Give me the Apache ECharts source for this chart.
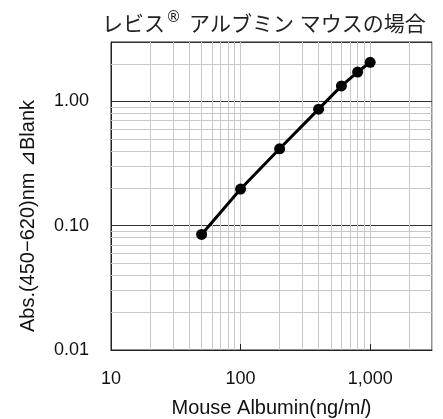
<!DOCTYPE html>
<html>
<head>
<meta charset="utf-8">
<script src="https://cdn.jsdelivr.net/npm/echarts@6/dist/echarts.min.js"></script>
<style>
  html, body { margin: 0; padding: 0; background: #fff; }
  #chart { width: 443px; height: 419px; }
</style>
</head>
<body>
<div id="chart"></div>
<script>
// データ
var concList = [50, 100, 200, 400, 600, 800, 1000];          // ng/ml
var absList = [0.085, 0.197, 0.415, 0.865, 1.33, 1.72, 2.06];  // Abs
var xTickList = [10, 100, 1000];
var yTickList = [0.01, 0.1, 1];
var xMinorList = [20, 30, 40, 50, 60, 70, 80, 90, 200, 300, 400, 500, 600, 700, 800, 900, 2000];
var yMinorList = [0.02, 0.03, 0.04, 0.05, 0.06, 0.07, 0.08, 0.09, 0.2, 0.3, 0.4, 0.5, 0.6, 0.7, 0.8, 0.9, 2];

var myChart = echarts.init(document.getElementById('chart'));

var points = [];
for (var i = 0; i < concList.length; i++) {
    points.push([concList[i], absList[i]]);
}

// 補助目盛線
var minorLines = [];
xMinorList.forEach(function (v) { minorLines.push({ xAxis: v }); });
yMinorList.forEach(function (v) { minorLines.push({ yAxis: v }); });

var labelFont = 'Liberation Sans, Arial, sans-serif';

function isTick(list, v) {
    for (var i = 0; i < list.length; i++) {
        if (Math.abs(Math.log10(v) - Math.log10(list[i])) < 1e-6) return true;
    }
    return false;
}

var option = {
    animation: false,
    title: {
        text: 'レビス{sup|®}アルブミン{gap| }マウスの場合',
        left: 97,
        top: 6,
        textStyle: {
            fontFamily: 'Noto Sans CJK JP',
            fontWeight: 'normal',
            fontSize: 21,
            color: '#222',
            rich: {
                sup: { fontSize: 15, padding: [0, 8, 10, 1], color: '#222', fontFamily: 'DejaVu Sans' },
                gap: { fontSize: 8, padding: [0, 2, 0, 2] }
            }
        }
    },
    grid: {
        left: 111,
        right: 11,
        top: 42,
        bottom: 69,
        outerBoundsMode: 'none',
        show: true,
        borderColor: '#222',
        borderWidth: 1,
        backgroundColor: 'transparent'
    },
    xAxis: {
        type: 'log',
        logBase: 10,
        min: 10,
        max: 3000,
        name: 'Mouse Albumin(ng/m{i|l})',
        nameLocation: 'middle',
        nameGap: 48,
        nameTextStyle: {
            fontFamily: labelFont,
            fontSize: 20,
            color: '#111',
            rich: { i: { fontStyle: 'italic', fontFamily: labelFont, fontSize: 20, color: '#111' } }
        },
        axisLine: { show: true, lineStyle: { color: '#222', width: 1 } },
        axisTick: { show: true, inside: true, length: 6, lineStyle: { color: '#222' } },
        axisLabel: {
            margin: 20,
            showMaxLabel: false,
            fontFamily: labelFont,
            fontSize: 18,
            color: '#111',
            formatter: function (v) {
                return isTick(xTickList, v) ? Math.round(v).toLocaleString('en-US') : '';
            }
        },
        splitLine: { show: true, lineStyle: { color: '#c8c8c8', width: 1 } }
    },
    yAxis: {
        type: 'log',
        logBase: 10,
        min: 0.01,
        max: 3,
        name: 'Abs.(450−620)nm ⊿Blank',
        nameLocation: 'middle',
        nameRotate: 90,
        nameGap: 73,
        nameTextStyle: {
            fontFamily: labelFont,
            fontSize: 20,
            color: '#111',
            padding: [0, 40, 0, 0]
        },
        axisLine: { show: true, lineStyle: { color: '#222', width: 1 } },
        axisTick: { show: false },
        axisLabel: {
            margin: 22,
            showMaxLabel: false,
            fontFamily: labelFont,
            fontSize: 18,
            color: '#111',
            formatter: function (v) {
                return isTick(yTickList, v) ? v.toFixed(2) : '';
            }
        },
        splitLine: { show: true, lineStyle: { color: '#333', width: 1 } }
    },
    series: [
        {
            name: 'minor',
            type: 'line',
            z: 1,
            data: [],
            silent: true,
            markLine: {
                z: 1,
                silent: true,
                symbol: 'none',
                animation: false,
                label: { show: false },
                lineStyle: { type: 'solid', color: '#c8c8c8', width: 1 },
                emphasis: { disabled: true },
                data: minorLines
            }
        },
        {
            name: 'mouse',
            type: 'line',
            z: 5,
            data: points,
            symbol: 'circle',
            symbolSize: 11,
            itemStyle: { color: '#000', borderWidth: 0 },
            lineStyle: { color: '#000', width: 3 }
        }
    ]
};

myChart.setOption(option);
</script>
</body>
</html>
